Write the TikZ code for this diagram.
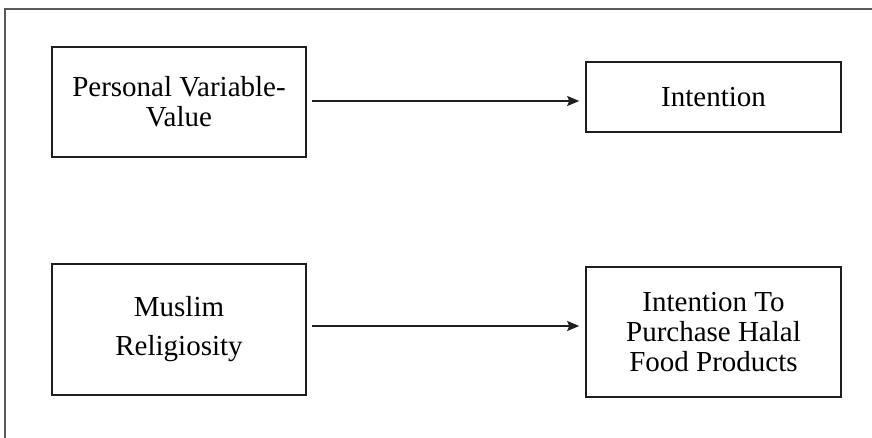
\documentclass[tikz,border=0pt]{standalone}
\usepackage{fontspec}
\setmainfont{Liberation Serif}
\usepackage{xcolor}
\definecolor{framegray}{HTML}{5A5A5A}
\definecolor{boxline}{HTML}{1E1E1E}
\usepackage{tikz}
\usetikzlibrary{positioning, arrows.meta, calc}
\tikzset{
    varbox/.style = {rectangle, draw=boxline, line width=1.6pt, fill=white,
                     inner sep=0pt, align=center,
                     font=\fontsize{29}{30}\selectfont},
    arrow/.style = {-{Stealth[length=12pt, width=10pt, inset=2pt]}, line width=1.6pt,
                    color=boxline, shorten <=5pt, shorten >=6pt},
    framerule/.style = {line width=1.2pt, color=framegray},
}

\begin{document}
\begin{tikzpicture}[x=1pt, y=-1pt]
        \useasboundingbox (0,0) rectangle (872,438);
        % Outer frame (cut off at right and bottom)
        \draw[framerule] (5,438) -- (5,9) -- (872,9);
        % Left column
        \node[varbox, minimum width=254, minimum height=110] (pv) at (179,102)
              {Personal Variable-\\Value};
        \node[varbox, minimum width=254, minimum height=131] (mr) at (179,329.5)
              {Muslim\\[9pt]Religiosity};
        % Right column
        \node[varbox, minimum width=255, minimum height=70] (int) at (713.5,97)
              {Intention};
        \node[varbox, minimum width=255, minimum height=130] (ip) at (713.5,332)
              {Intention To\\Purchase Halal\\Food Products};
        % Paths
        \draw[arrow] ([yshift=1]pv.east) -- ([yshift=1]pv.east -| int.west);
        \draw[arrow] ([yshift=3.5]mr.east) -- ([yshift=3.5]mr.east -| ip.west);
      \end{tikzpicture}
\end{document}
